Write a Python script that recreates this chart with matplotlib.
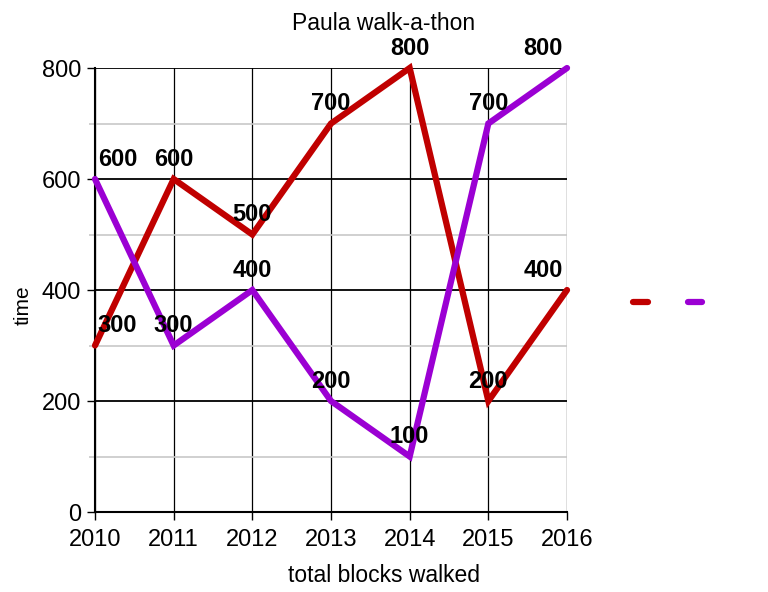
import matplotlib
matplotlib.use("Agg")
from matplotlib import pyplot as plt
from matplotlib.ticker import MultipleLocator

years = [2010, 2011, 2012, 2013, 2014, 2015, 2016]
red_vals = [300, 600, 500, 700, 800, 200, 400]
purple_vals = [600, 300, 400, 200, 100, 700, 800]
red_color = "#c00000"
purple_color = "#9b00d3"

plt.rcParams['font.family'] = ['Liberation Sans', 'DejaVu Sans']

fig = plt.figure(figsize=(7.68, 5.92), dpi=100)
ax = fig.add_axes([0.1237, 0.1351, 0.6146, 0.7500])

l1, = ax.plot(years, red_vals, color=red_color, lw=4.5, solid_capstyle='round',
              solid_joinstyle='miter', clip_on=False, zorder=3)
l2, = ax.plot(years, purple_vals, color=purple_color, lw=4.5, solid_capstyle='round',
              solid_joinstyle='miter', clip_on=False, zorder=3)

# value labels, kept inside the plot at the two ends
for vals in (red_vals, purple_vals):
    for i, (x, y) in enumerate(zip(years, vals)):
        if i == 0:
            ha, dx = 'left', 2
        elif i == len(years) - 1:
            ha, dx = 'right', -3
        else:
            ha, dx = 'center', 0
        ax.annotate(str(y), (x, y), xytext=(dx, 6), textcoords='offset points',
                    ha=ha, va='bottom', fontsize=17, fontweight='bold', zorder=4)

ax.set_xlim(2010, 2016)
ax.set_ylim(0, 800)
ax.set_xticks(years)
ax.yaxis.set_major_locator(MultipleLocator(200))
ax.yaxis.set_minor_locator(MultipleLocator(100))

ax.grid(axis='y', which='major', color='black', lw=1.3)
ax.grid(axis='y', which='minor', color='#c8c8c8', lw=1.2)
ax.grid(axis='x', which='major', color='black', lw=0.9)
ax.set_axisbelow(True)

for s in ['top', 'right']:
    ax.spines[s].set_visible(False)
ax.spines['left'].set_linewidth(1.5)
ax.spines['bottom'].set_linewidth(1.5)

ax.tick_params(axis='both', which='major', labelsize=17, length=6, width=1, pad=4)
ax.tick_params(axis='x', which='major', pad=6)
ax.tick_params(axis='y', which='minor', length=4, color='#c8c8c8', width=1.2)

fig.text(0.5, 1 - 24 / 592, 'Paula walk-a-thon', fontsize=16.5, ha='center', va='center')
ax.set_xlabel('total blocks walked', fontsize=16.5)
ax.xaxis.label.set_va('center')
ax.xaxis.set_label_coords(0.612, -0.142)
ax.set_ylabel('time', fontsize=15)
ax.yaxis.label.set_va('center')
ax.yaxis.set_label_coords(-0.152, 0.466)

ax.legend([l1, l2], ['', ''], ncol=2, loc='center left', bbox_to_anchor=(1.10, 0.470),
          frameon=False, handlelength=0.7, handletextpad=0, columnspacing=1.92, fontsize=15)

plt.savefig('out.png', dpi=100)
